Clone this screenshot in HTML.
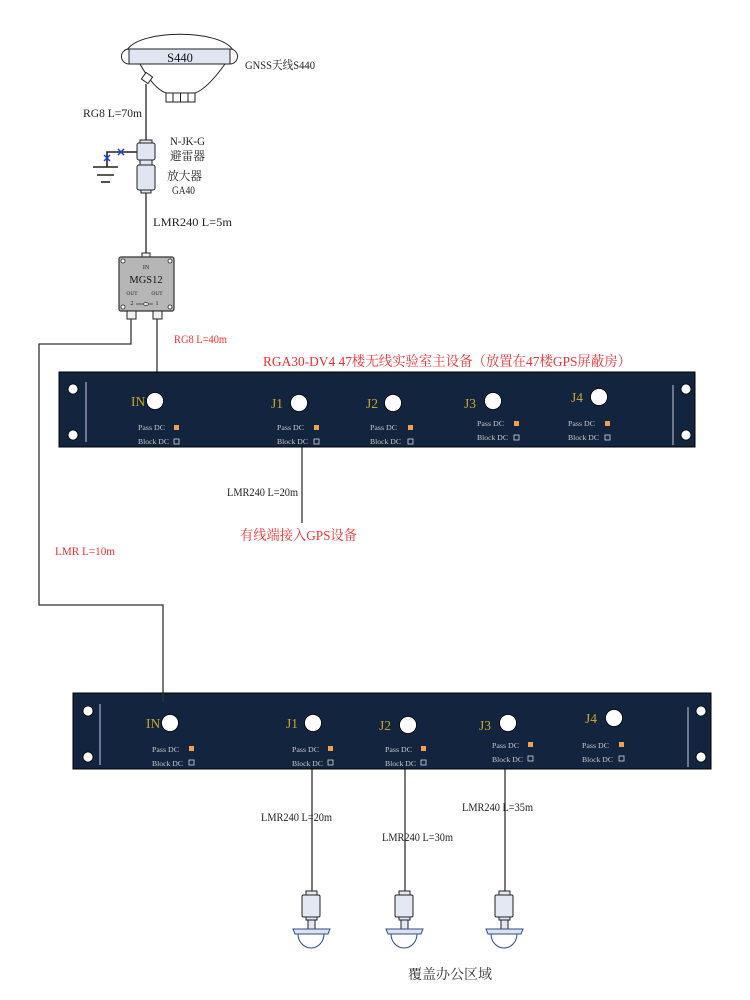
<!DOCTYPE html>
<html><head><meta charset="utf-8"><style>
html,body{margin:0;padding:0;background:#fff;}
svg{display:block;}
text{font-family:"Liberation Serif","Noto Serif CJK SC",serif;}
</style></head><body>
<svg width="750" height="1000" viewBox="0 0 750 1000" xmlns="http://www.w3.org/2000/svg">
<!-- ===== GNSS antenna ===== -->
<g stroke="#222" stroke-width="1">
  <path d="M127,50 C140,29 220,29 233,50" fill="#fff"/>
  <path d="M140,64 Q154,89 166,93 L195,93 Q207,89 225,64 Z" fill="#fff"/>
  <path d="M129,49 A7.5,7.5 0 0 0 129,64" fill="#fff"/>
  <path d="M230,49 A7.5,7.5 0 0 1 230,64" fill="#fff"/>
  <rect x="129" y="49" width="101" height="15" fill="#dfe5f1"/>
  <rect x="166" y="93" width="29" height="9" fill="#fff"/>
  <line x1="173" y1="93" x2="173" y2="102"/>
  <line x1="180.5" y1="93" x2="180.5" y2="102"/>
  <line x1="188" y1="93" x2="188" y2="102"/>
  <rect x="143" y="74" width="8" height="8" fill="#fff" transform="rotate(35 147 78)"/>
</g>
<text x="180" y="62" font-size="12.5" text-anchor="middle" fill="#111">S440</text>
<text x="245" y="69" font-size="12" fill="#222" textLength="70" lengthAdjust="spacingAndGlyphs">GNSS天线S440</text>
<line x1="146" y1="84" x2="146" y2="142" stroke="#222" stroke-width="1.3"/>
<text x="83" y="117" font-size="12" fill="#222" textLength="59" lengthAdjust="spacingAndGlyphs">RG8  L=70m</text>

<!-- arrester + amp -->
<g stroke="#222" stroke-width="1">
  <rect x="140" y="140" width="12" height="3" fill="#dfe6f2"/>
  <rect x="137" y="143" width="18" height="17" rx="2" fill="#dfe6f2"/>
  <rect x="140" y="160" width="12" height="5" fill="#dfe6f2"/>
  <rect x="137" y="165" width="18" height="25" rx="2" fill="#dfe6f2"/>
  <rect x="141" y="190" width="10" height="3" fill="#dfe6f2"/>
</g>
<line x1="146" y1="193" x2="146" y2="254" stroke="#222" stroke-width="1.3"/>
<!-- ground -->
<g stroke="#222" stroke-width="1.6">
  <polyline points="137,152 107,152 107,167" fill="none"/>
  <line x1="93" y1="167" x2="118" y2="167"/>
  <line x1="97" y1="175" x2="114" y2="175"/>
  <line x1="101" y1="182" x2="110" y2="182"/>
</g>
<g stroke="#1a3fd8" stroke-width="1.4">
  <line x1="118" y1="149" x2="124" y2="155"/><line x1="124" y1="149" x2="118" y2="155"/>
  <line x1="104" y1="155" x2="110" y2="161"/><line x1="110" y1="155" x2="104" y2="161"/>
</g>
<text x="170" y="145" font-size="12" fill="#222" textLength="35" lengthAdjust="spacingAndGlyphs">N-JK-G</text>
<text x="170" y="160" font-size="12" fill="#222" textLength="35" lengthAdjust="spacingAndGlyphs">避雷器</text>
<text x="167" y="180" font-size="12" fill="#222" textLength="35" lengthAdjust="spacingAndGlyphs">放大器</text>
<text x="172" y="194" font-size="12" fill="#222" textLength="23" lengthAdjust="spacingAndGlyphs">GA40</text>
<text x="153" y="226" font-size="12" fill="#222" textLength="79" lengthAdjust="spacingAndGlyphs">LMR240  L=5m</text>

<!-- ===== MGS12 splitter ===== -->
<rect x="142" y="253" width="8" height="9" fill="#eef1f6" stroke="#222"/>
<rect x="119" y="257" width="55" height="54" rx="2" fill="#b6b6b6" stroke="#333" stroke-width="1.2"/>
<g fill="#fff" stroke="#222" stroke-width="0.8">
  <circle cx="123" cy="261" r="2"/><circle cx="170" cy="261" r="2"/>
  <circle cx="123" cy="307" r="2"/><circle cx="170" cy="307" r="2"/>
</g>
<text x="146" y="269" font-size="6" text-anchor="middle" fill="#222">IN</text>
<text x="146" y="283" font-size="10.5" text-anchor="middle" fill="#111">MGS12</text>
<text x="132" y="295" font-size="5.5" text-anchor="middle" fill="#222">OUT</text>
<text x="157" y="295" font-size="5.5" text-anchor="middle" fill="#222">OUT</text>
<text x="132" y="305" font-size="6" text-anchor="middle" fill="#222">2</text>
<text x="157" y="305" font-size="6" text-anchor="middle" fill="#222">1</text>
<line x1="136" y1="304" x2="153" y2="304" stroke="#333" stroke-width="0.8"/>
<ellipse cx="146" cy="304" rx="2.5" ry="1.5" fill="#ddd" stroke="#333" stroke-width="0.7"/>
<rect x="127" y="311" width="9" height="8" fill="#eef1f6" stroke="#222"/>
<rect x="153" y="311" width="9" height="8" fill="#eef1f6" stroke="#222"/>

<!-- connectors -->
<g stroke="#333" stroke-width="1.3" fill="none">
  <polyline points="131,319 131,344 39,344 39,605 163,605 163,702"/>
  <line x1="157" y1="319" x2="157" y2="372"/>
  <line x1="302" y1="447" x2="302" y2="523"/>
  <line x1="312" y1="769" x2="312" y2="892"/>
  <line x1="405" y1="769" x2="405" y2="892"/>
  <line x1="505" y1="769" x2="505" y2="892"/>
</g>
<text x="174" y="343" font-size="12" fill="#f23030" textLength="53" lengthAdjust="spacingAndGlyphs">RG8 L=40m</text>
<text x="263" y="366" font-size="14" fill="#f23030" textLength="368" lengthAdjust="spacingAndGlyphs">RGA30-DV4 47楼无线实验室主设备（放置在47楼GPS屏蔽房）</text>
<text x="55" y="555" font-size="12" fill="#f23030" textLength="60" lengthAdjust="spacingAndGlyphs">LMR  L=10m</text>

<!-- ===== Panel 1 ===== -->
<rect x="59" y="372" width="636" height="75" fill="#13243f" stroke="#000" stroke-width="1"/>
<g fill="#fff" stroke="#000" stroke-width="0.8">
  <circle cx="73" cy="389" r="5"/><circle cx="73" cy="435" r="5"/>
  <circle cx="686" cy="389" r="5"/><circle cx="686" cy="435" r="5"/>
</g>
<line x1="86" y1="382" x2="86" y2="442" stroke="#c9cdd6" stroke-width="1"/>
<line x1="673" y1="385" x2="673" y2="445" stroke="#c9cdd6" stroke-width="1"/>
<g fill="#c9a62a" font-size="13.5">
  <text x="131" y="406">IN</text>
  <text x="271" y="408">J1</text>
  <text x="366" y="408">J2</text>
  <text x="464" y="408">J3</text>
  <text x="571" y="402">J4</text>
</g>
<g fill="#fff" stroke="#000" stroke-width="0.8">
  <circle cx="155" cy="401" r="8.5"/>
  <circle cx="299" cy="403" r="8.5"/>
  <circle cx="393" cy="403" r="8.5"/>
  <circle cx="493" cy="401" r="8.5"/>
  <circle cx="599" cy="397" r="8.5"/>
</g>
<g fill="#c8c8c8" font-size="7.5">
  <text x="138" y="430" textLength="27" lengthAdjust="spacingAndGlyphs">Pass DC</text>
  <text x="138" y="444" textLength="31" lengthAdjust="spacingAndGlyphs">Block DC</text>
  <text x="277" y="430" textLength="27" lengthAdjust="spacingAndGlyphs">Pass DC</text>
  <text x="277" y="444" textLength="31" lengthAdjust="spacingAndGlyphs">Block DC</text>
  <text x="370" y="430" textLength="27" lengthAdjust="spacingAndGlyphs">Pass DC</text>
  <text x="370" y="444" textLength="31" lengthAdjust="spacingAndGlyphs">Block DC</text>
  <text x="477" y="426" textLength="27" lengthAdjust="spacingAndGlyphs">Pass DC</text>
  <text x="477" y="440" textLength="31" lengthAdjust="spacingAndGlyphs">Block DC</text>
  <text x="568" y="426" textLength="27" lengthAdjust="spacingAndGlyphs">Pass DC</text>
  <text x="568" y="440" textLength="31" lengthAdjust="spacingAndGlyphs">Block DC</text>
</g>
<g fill="#f4a04a">
  <rect x="174" y="425" width="5" height="5"/>
  <rect x="314" y="425" width="5" height="5"/>
  <rect x="408" y="425" width="5" height="5"/>
  <rect x="514" y="421" width="5" height="5"/>
  <rect x="605" y="421" width="5" height="5"/>
</g>
<g fill="none" stroke="#d8d8d8" stroke-width="0.8">
  <rect x="174" y="439" width="5" height="5"/>
  <rect x="314" y="439" width="5" height="5"/>
  <rect x="408" y="439" width="5" height="5"/>
  <rect x="514" y="435" width="5" height="5"/>
  <rect x="605" y="435" width="5" height="5"/>
</g>

<text x="227" y="496" font-size="12" fill="#222" textLength="71" lengthAdjust="spacingAndGlyphs">LMR240 L=20m</text>
<text x="240" y="540" font-size="14" fill="#f23030" textLength="117" lengthAdjust="spacingAndGlyphs">有线端接入GPS设备</text>

<!-- ===== Panel 2 ===== -->
<rect x="73" y="693" width="638" height="76" fill="#13243f" stroke="#000" stroke-width="1"/>
<line x1="163" y1="693" x2="163" y2="702" stroke="#333" stroke-width="1.3"/>
<g fill="#fff" stroke="#000" stroke-width="0.8">
  <circle cx="88" cy="711" r="5"/><circle cx="88" cy="757" r="5"/>
  <circle cx="701" cy="711" r="5"/><circle cx="701" cy="757" r="5"/>
</g>
<line x1="100" y1="704" x2="100" y2="765" stroke="#c9cdd6" stroke-width="1"/>
<line x1="688" y1="707" x2="688" y2="767" stroke="#c9cdd6" stroke-width="1"/>
<g fill="#c9a62a" font-size="13.5">
  <text x="146" y="728">IN</text>
  <text x="286" y="728">J1</text>
  <text x="379" y="730">J2</text>
  <text x="479" y="730">J3</text>
  <text x="585" y="723">J4</text>
</g>
<g fill="#fff" stroke="#000" stroke-width="0.8">
  <circle cx="170" cy="723" r="8.5"/>
  <circle cx="313" cy="723" r="8.5"/>
  <circle cx="408" cy="725" r="8.5"/>
  <circle cx="508" cy="723" r="8.5"/>
  <circle cx="614" cy="718" r="8.5"/>
</g>
<g fill="#c8c8c8" font-size="7.5">
  <text x="152" y="752" textLength="27" lengthAdjust="spacingAndGlyphs">Pass DC</text>
  <text x="152" y="766" textLength="31" lengthAdjust="spacingAndGlyphs">Block DC</text>
  <text x="292" y="752" textLength="27" lengthAdjust="spacingAndGlyphs">Pass DC</text>
  <text x="292" y="766" textLength="31" lengthAdjust="spacingAndGlyphs">Block DC</text>
  <text x="385" y="752" textLength="27" lengthAdjust="spacingAndGlyphs">Pass DC</text>
  <text x="385" y="766" textLength="31" lengthAdjust="spacingAndGlyphs">Block DC</text>
  <text x="492" y="748" textLength="27" lengthAdjust="spacingAndGlyphs">Pass DC</text>
  <text x="492" y="762" textLength="31" lengthAdjust="spacingAndGlyphs">Block DC</text>
  <text x="582" y="748" textLength="27" lengthAdjust="spacingAndGlyphs">Pass DC</text>
  <text x="582" y="762" textLength="31" lengthAdjust="spacingAndGlyphs">Block DC</text>
</g>
<g fill="#f4a04a">
  <rect x="189" y="746" width="5" height="5"/>
  <rect x="328" y="746" width="5" height="5"/>
  <rect x="421" y="746" width="5" height="5"/>
  <rect x="528" y="742" width="5" height="5"/>
  <rect x="619" y="742" width="5" height="5"/>
</g>
<g fill="none" stroke="#d8d8d8" stroke-width="0.8">
  <rect x="189" y="760" width="5" height="5"/>
  <rect x="328" y="760" width="5" height="5"/>
  <rect x="421" y="760" width="5" height="5"/>
  <rect x="528" y="756" width="5" height="5"/>
  <rect x="619" y="756" width="5" height="5"/>
</g>

<text x="261" y="821" font-size="12" fill="#222" textLength="71" lengthAdjust="spacingAndGlyphs">LMR240 L=20m</text>
<text x="382" y="841" font-size="12" fill="#222" textLength="71" lengthAdjust="spacingAndGlyphs">LMR240 L=30m</text>
<text x="462" y="811" font-size="12" fill="#222" textLength="71" lengthAdjust="spacingAndGlyphs">LMR240 L=35m</text>

<!-- ===== indoor antennas ===== -->
<g>
  <g stroke="#222" stroke-width="1" fill="#e3e9f3">
    <rect x="306" y="891" width="11" height="4"/>
    <rect x="302" y="895" width="18" height="22" rx="1.5"/>
    <rect x="306" y="917" width="11" height="3"/>
    <rect x="308" y="920" width="7" height="9"/>
  </g>
  <path d="M293,929 L330,929 L328,934 L295,934 Z" fill="#dde3ee" stroke="#2d4a8c" stroke-width="1"/>
  <path d="M298,934 A13,14 0 0 0 324,934 Z" fill="#fff" stroke="#2d4a8c" stroke-width="1"/>
</g>
<g transform="translate(93,0)">
  <g stroke="#222" stroke-width="1" fill="#e3e9f3">
    <rect x="306" y="891" width="11" height="4"/>
    <rect x="302" y="895" width="18" height="22" rx="1.5"/>
    <rect x="306" y="917" width="11" height="3"/>
    <rect x="308" y="920" width="7" height="9"/>
  </g>
  <path d="M293,929 L330,929 L328,934 L295,934 Z" fill="#dde3ee" stroke="#2d4a8c" stroke-width="1"/>
  <path d="M298,934 A13,14 0 0 0 324,934 Z" fill="#fff" stroke="#2d4a8c" stroke-width="1"/>
</g>
<g transform="translate(193,0)">
  <g stroke="#222" stroke-width="1" fill="#e3e9f3">
    <rect x="306" y="891" width="11" height="4"/>
    <rect x="302" y="895" width="18" height="22" rx="1.5"/>
    <rect x="306" y="917" width="11" height="3"/>
    <rect x="308" y="920" width="7" height="9"/>
  </g>
  <path d="M293,929 L330,929 L328,934 L295,934 Z" fill="#dde3ee" stroke="#2d4a8c" stroke-width="1"/>
  <path d="M298,934 A13,14 0 0 0 324,934 Z" fill="#fff" stroke="#2d4a8c" stroke-width="1"/>
</g>
<text x="408" y="979" font-size="14" fill="#333" textLength="84" lengthAdjust="spacingAndGlyphs">覆盖办公区域</text>
</svg>
</body></html>
